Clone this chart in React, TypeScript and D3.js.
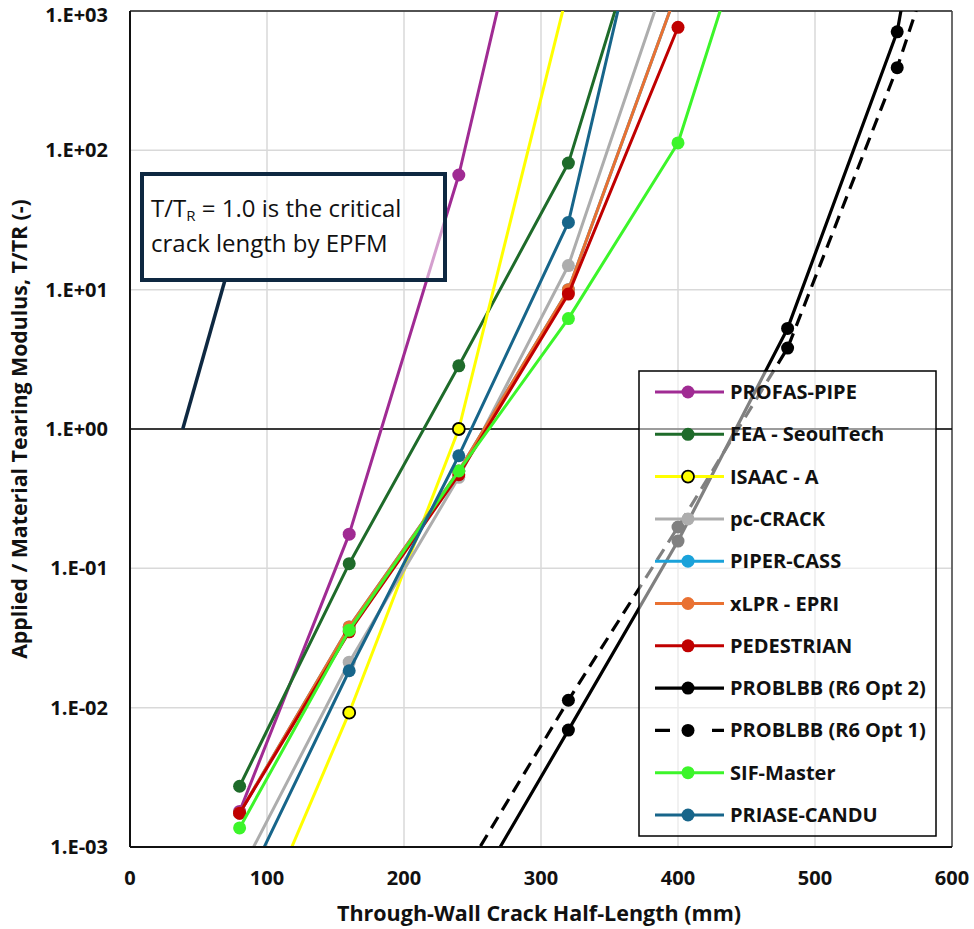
import React from 'react';
import * as d3 from 'd3';

// ---------- data ----------
const xTicks = [0, 100, 200, 300, 400, 500, 600];
const yTicks = [1e-3, 1e-2, 1e-1, 1e0, 1e1, 1e2, 1e3];
const yTickLabels = ['1.E-03', '1.E-02', '1.E-01', '1.E+00', '1.E+01', '1.E+02', '1.E+03'];

const profasX = [80, 160, 240, 320];
const profasY = [1.8e-3, 0.176, 66.5, 1.5e5];

const feaX = [80, 160, 240, 320, 400];
const feaY = [2.73e-3, 0.108, 2.84, 81, 3e4];

const isaacX = [80, 160, 240, 320];
const isaacY = [1.33e-4, 9.2e-3, 1.0, 1.46e3];

const pcCrackX = [80, 160, 240, 320, 400];
const pcCrackY = [6.4e-4, 0.0212, 0.45, 14.9, 3.1e3];

const piperX = [80, 160, 240, 320, 400];
const piperY = [1.75e-3, 0.038, 0.5, 10, 1.45e3];

const xlprX = [80, 160, 240, 320, 400];
const xlprY = [1.75e-3, 0.038, 0.5, 10, 1.45e3];

const pedX = [80, 160, 240, 320, 400];
const pedY = [1.75e-3, 0.035, 0.47, 9.3, 764];

const opt2X = [240, 320, 400, 480, 560, 640];
const opt2Y = [3.1e-4, 6.9e-3, 0.157, 5.27, 709, 1.9e7];

const opt1X = [240, 320, 400, 480, 560, 640];
const opt1Y = [5.6e-4, 0.0113, 0.198, 3.81, 392, 9.3e4];

const sifX = [80, 160, 240, 320, 400, 480];
const sifY = [1.37e-3, 0.036, 0.5, 6.2, 113, 3.3e4];

const priaseX = [80, 160, 240, 320, 400];
const priaseY = [4.3e-4, 0.0184, 0.643, 30.4, 7e4];

const seriesNames = [
  'PROFAS-PIPE', 'FEA - SeoulTech', 'ISAAC - A', 'pc-CRACK', 'PIPER-CASS', 'xLPR - EPRI',
  'PEDESTRIAN', 'PROBLBB (R6 Opt 2)', 'PROBLBB (R6 Opt 1)', 'SIF-Master', 'PRIASE-CANDU',
];
const seriesColors = [
  '#A02B93', '#1E6B2A', '#FFFF00', '#ADADAD', '#1AA2DA', '#E97132',
  '#C00000', '#000000', '#000000', '#3CF52A', '#17658A',
];

const calloutLine1 = 'T/T';
const calloutSub = 'R';
const calloutLine1b = ' = 1.0 is the critical';
const calloutLine2 = 'crack length by EPFM';
const calloutTip = [38.5, 1.0];

const xTitle = 'Through-Wall Crack Half-Length (mm)';
const yTitle = 'Applied / Material Tearing Modulus, T/TR (-)';

// ---------- layout ----------
const W = 974, H = 929;
const L = 130, R = 952, T = 11, B = 847;
const FONT = '"Open Sans", "DejaVu Sans", sans-serif';

export default function App() {
  const x = d3.scaleLinear().domain([0, 600]).range([L, R]);
  const y = d3.scaleLog().domain([1e-3, 1e3]).range([B, T]);

  const series = [
    { xs: profasX, ys: profasY },
    { xs: feaX, ys: feaY },
    { xs: isaacX, ys: isaacY },
    { xs: pcCrackX, ys: pcCrackY },
    { xs: piperX, ys: piperY },
    { xs: xlprX, ys: xlprY },
    { xs: pedX, ys: pedY },
    { xs: opt2X, ys: opt2Y },
    { xs: opt1X, ys: opt1Y },
    { xs: sifX, ys: sifY },
    { xs: priaseX, ys: priaseY },
  ].map((s, i) => ({
    ...s,
    name: seriesNames[i],
    color: seriesColors[i],
    dash: i === 8 ? '13,8' : undefined,
    markerStroke: i === 2 ? '#000' : seriesColors[i],
    width: i === 7 || i === 8 ? 3.2 : 3,
  }));

  const line = d3.line<[number, number]>().x(d => x(d[0])).y(d => y(d[1]));

  const legX = 639, legY = 371, legW = 297, legH = 465;
  const legRow = 42.3;

  const tipX = x(calloutTip[0]);
  const tipY = y(calloutTip[1]);

  return (
    <div style={{ position: 'absolute', left: 0, top: 0 }}>
      <svg width={W} height={H} style={{ display: 'block', background: '#fff' }}>
        <defs>
          <clipPath id="plotClip">
            <rect x={L} y={T} width={R - L} height={B - T} />
          </clipPath>
        </defs>
        <rect x={0} y={0} width={W} height={H} fill="#fff" />
        {/* grid */}
        {xTicks.map(t => (
          <line key={'gx' + t} x1={x(t)} x2={x(t)} y1={T} y2={B} stroke="#D9D9D9" strokeWidth={1.5} />
        ))}
        {yTicks.map(t => (
          <line key={'gy' + t} x1={L} x2={R} y1={y(t)} y2={y(t)} stroke="#D9D9D9" strokeWidth={1.5} />
        ))}
        {/* frame */}
        <line x1={L} x2={R} y1={T} y2={T} stroke="#222" strokeWidth={1.5} />
        <line x1={R} x2={R} y1={T} y2={B} stroke="#444" strokeWidth={1.5} />
        <line x1={L} x2={R} y1={y(1)} y2={y(1)} stroke="#000" strokeWidth={1.5} />

        {/* callout pointer */}
        <line x1={tipX} y1={tipY} x2={225} y2={280} stroke="#0E2841" strokeWidth={3.5} />

        {/* series */}
        <g clipPath="url(#plotClip)">
          {series.map((s, i) => {
            const pts = s.xs.map((v, j) => [v, s.ys[j]] as [number, number]);
            return (
              <g key={'s' + i}>
                <path d={line(pts) || ''} fill="none" stroke={s.color} strokeWidth={s.width}
                  strokeDasharray={s.dash} strokeLinejoin="round" />
                {pts.map((p, j) => (
                  <circle key={j} cx={x(p[0])} cy={y(p[1])} r={i === 2 ? 6 : 6.5}
                    fill={s.color} stroke={s.markerStroke} strokeWidth={i === 2 ? 1.8 : 0} />
                ))}
              </g>
            );
          })}
        </g>

        {/* axes lines */}
        <line x1={L} x2={L} y1={T} y2={B} stroke="#111" strokeWidth={2} />
        <line x1={L} x2={R} y1={B} y2={B} stroke="#111" strokeWidth={2} />

        {/* callout box */}
        <rect x={142} y={174} width={303} height={106} fill="#fff" fillOpacity={0.55}
          stroke="#0E2841" strokeWidth={4} />
        <text x={151} y={217} fontFamily={FONT} fontSize={24} fill="#111">
          {calloutLine1}
          <tspan fontSize={15} dy={4}>{calloutSub}</tspan>
          <tspan dy={-4}>{calloutLine1b}</tspan>
        </text>
        <text x={151} y={252} fontFamily={FONT} fontSize={24} fill="#111">{calloutLine2}</text>

        {/* tick labels */}
        {xTicks.map(t => (
          <text key={'tx' + t} x={x(t)} y={885} textAnchor="middle" fontFamily={FONT}
            fontWeight="bold" fontSize={20} fill="#111">{t}</text>
        ))}
        {yTicks.map((t, i) => (
          <text key={'ty' + t} x={108} y={Math.max(y(t) + 7, 22)} textAnchor="end" fontFamily={FONT}
            fontWeight="bold" fontSize={20} fill="#111">{yTickLabels[i]}</text>
        ))}

        {/* axis titles */}
        <text x={(L + R) / 2 - 2} y={921} textAnchor="middle" fontFamily={FONT} fontWeight="bold"
          fontSize={21.5} fill="#111">{xTitle}</text>
        <text transform={`translate(27, ${(T + B) / 2}) rotate(-90)`} textAnchor="middle"
          fontFamily={FONT} fontWeight="bold" fontSize={21.3} fill="#111">{yTitle}</text>

        {/* legend */}
        <rect x={legX} y={legY} width={legW} height={legH} fill="#fff" fillOpacity={0.5}
          stroke="#000" strokeWidth={1.5} />
        {series.map((s, i) => {
          const cy = legY + 21 + i * legRow;
          return (
            <g key={'lg' + i}>
              <line x1={655} x2={724} y1={cy} y2={cy} stroke={s.color} strokeWidth={s.width}
                strokeDasharray={s.dash ? '15,42' : undefined} />
              <circle cx={688} cy={cy} r={i === 2 ? 6 : 6.5} fill={s.color} stroke={s.markerStroke}
                strokeWidth={i === 2 ? 1.8 : 0} />
              <text x={730} y={cy + 7} fontFamily={FONT} fontWeight="bold" fontSize={20} fill="#111">{s.name}</text>
            </g>
          );
        })}
      </svg>
    </div>
  );
}
